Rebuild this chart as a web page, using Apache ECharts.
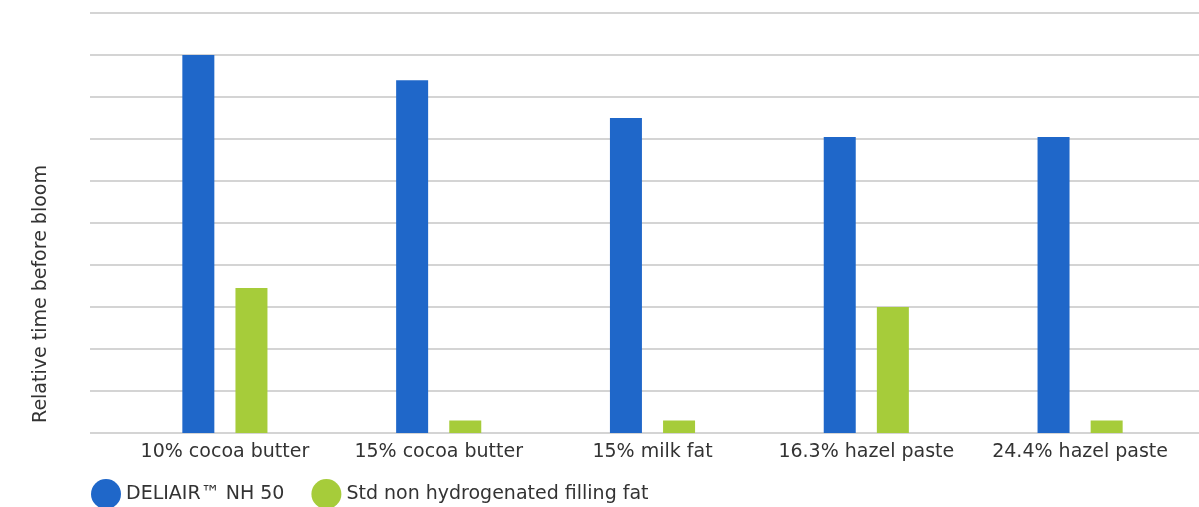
<!DOCTYPE html>
<html>
<head>
<meta charset="utf-8">
<script src="https://cdn.jsdelivr.net/npm/echarts@6/dist/echarts.min.js"></script>
<style>
  html, body { margin: 0; padding: 0; background: #fff; }
  #main { width: 1199px; height: 507px; }
</style>
</head>
<body>
<div id="main"></div>
<script>
var categories = ['10% cocoa butter', '15% cocoa butter', '15% milk fat', '16.3% hazel paste', '24.4% hazel paste'];
var deliair = [9, 8.4, 7.5, 7.05, 7.05];
var stdFat = [3.45, 0.3, 0.3, 3.0, 0.3];
var seriesNames = ['DELIAIR\u2122 NH 50', 'Std non hydrogenated filling fat'];

var font = 'DejaVu Sans';
var chart = echarts.init(document.getElementById('main'));

chart.setOption({
  animation: false,
  textStyle: { fontFamily: font },
  legend: {
    left: 86,
    top: 474,
    icon: 'circle',
    itemWidth: 30,
    itemHeight: 30,
    itemGap: 27,
    textStyle: { fontSize: 19, color: '#333', fontFamily: font },
    data: seriesNames
  },
  graphic: [{
    type: 'text',
    x: 32,
    y: 294,
    rotation: Math.PI / 2,
    style: {
      text: 'Relative time before bloom',
      fontSize: 19,
      fontFamily: font,
      fill: '#333',
      align: 'center',
      verticalAlign: 'top'
    }
  }],
  grid: [
    { left: 90, right: 0, top: 13, height: 420 },
    { left: 118, right: 12, top: 13, height: 420 }
  ],
  xAxis: [
    { gridIndex: 0, type: 'category', data: categories, show: false },
    {
      gridIndex: 1,
      type: 'category',
      data: categories,
      axisLine: { show: false },
      axisTick: { show: false },
      axisLabel: {
        interval: 0,
        hideOverlap: false,
        fontSize: 19,
        color: '#333',
        margin: 10,
        fontFamily: font
      }
    }
  ],
  yAxis: [
    {
      gridIndex: 0,
      type: 'value',
      min: 0,
      max: 10,
      interval: 1,
      axisLabel: { show: false },
      axisLine: { show: false },
      axisTick: { show: false },
      splitLine: { lineStyle: { color: '#c6c6c6', width: 1.5 } }
    },
    {
      gridIndex: 1,
      type: 'value',
      min: 0,
      max: 10,
      interval: 1,
      show: false,
      splitLine: { show: false }
    }
  ],
  series: [
    {
      name: seriesNames[0],
      type: 'bar',
      xAxisIndex: 1,
      yAxisIndex: 1,
      data: deliair,
      barWidth: 32,
      barGap: '66%',
      itemStyle: { color: '#1f67c9' }
    },
    {
      name: seriesNames[1],
      type: 'bar',
      xAxisIndex: 1,
      yAxisIndex: 1,
      data: stdFat,
      barWidth: 32,
      barGap: '66%',
      itemStyle: { color: '#a6cc3a' }
    }
  ]
});
</script>
</body>
</html>
